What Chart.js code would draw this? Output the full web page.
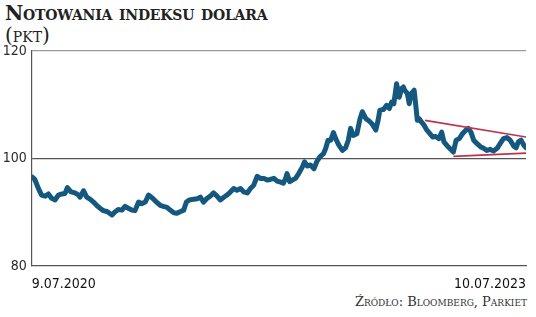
<!DOCTYPE html>
<html>
<head>
<meta charset="utf-8">
<script src="https://cdn.jsdelivr.net/npm/chart.js@4/dist/chart.umd.min.js"></script>
<style>
  html, body { margin: 0; padding: 0; background: #fff; }
  .wrap { position: relative; width: 536px; height: 317px; overflow: hidden; }
  .title { position: absolute; left: 5px; top: 1px; font: bold small-caps 20px "DejaVu Serif", serif; color: #222; white-space: nowrap; letter-spacing: -0.2px; }
  .unit { position: absolute; left: 5px; top: 23px; font: small-caps 20px "DejaVu Serif", serif; color: #222; }
  .source { position: absolute; right: 9px; top: 294px; font: small-caps 13px "DejaVu Serif", serif; color: #333; white-space: nowrap; }
  canvas { position: absolute; left: 0; top: 0; }
</style>
</head>
<body>
<div class="wrap">
  <div class="title">Notowania indeksu dolara</div>
  <div class="unit">(pkt)</div>
  <div class="source">Źródło: Bloomberg, Parkiet</div>
  <canvas id="dxyChart" width="536" height="317"></canvas>
</div>
<script>
// dni od 9.07.2020
const days = [0, 7, 15, 22, 30, 37, 44, 52, 59, 67, 74, 79, 87, 96, 104, 107, 115, 122, 130, 137,
  144, 152, 159, 168, 178, 185, 192, 200, 207, 215, 222, 229, 237, 244, 252, 259, 268, 278, 285, 292,
  300, 307, 315, 322, 329, 337, 343, 350, 359, 367, 374, 381, 389, 396, 403, 411, 418, 426, 433, 441,
  448, 455, 463, 470, 478, 485, 492, 500, 507, 515, 522, 529, 537, 544, 552, 558, 563, 566, 572, 578,
  585, 592, 600, 605, 611, 618, 626, 632, 639, 647, 652, 657, 663, 669, 674, 681, 689, 696, 702, 707,
  713, 721, 728, 733, 741, 748, 755, 763, 768, 772, 780, 787, 793, 798, 803, 809, 815, 820, 824, 827,
  833, 837, 842, 848, 852, 855, 859, 864, 870, 876, 881, 889, 896, 903, 909, 914, 922, 929, 935, 941,
  948, 955, 963, 968, 974, 980, 987, 995, 1002, 1009, 1017, 1024, 1032, 1039, 1046, 1054, 1061, 1069, 1074, 1079,
  1085, 1091, 1096];
const dxy = [96.6, 96.1, 94.4, 93.2, 93.0, 93.4, 92.6, 92.3, 93.2, 93.4, 93.5, 94.6, 93.8, 93.6, 93.2, 92.8, 94.0, 92.8, 92.4, 91.9,
  91.3, 90.7, 90.3, 90.1, 89.5, 90.1, 90.5, 90.4, 91.1, 90.7, 90.4, 90.3, 91.9, 91.6, 91.9, 93.2, 92.6, 91.8, 91.3, 91.1,
  90.9, 90.4, 89.9, 89.8, 90.1, 90.4, 91.9, 92.3, 92.4, 92.5, 92.8, 91.9, 92.6, 93.0, 93.6, 93.0, 92.3, 92.8, 93.2, 93.8,
  94.4, 94.1, 94.4, 93.8, 93.6, 94.4, 95.0, 96.7, 96.3, 96.3, 96.0, 96.1, 96.3, 95.8, 95.6, 95.4, 96.3, 97.2, 95.7, 96.0,
  96.3, 97.2, 98.4, 99.4, 98.6, 98.8, 98.1, 99.4, 100.3, 100.9, 101.9, 103.4, 103.4, 104.8, 103.7, 102.5, 101.5, 102.0, 103.4, 105.6,
  104.3, 104.6, 107.4, 108.7, 107.4, 107.0, 106.4, 105.3, 107.1, 109.0, 109.1, 109.9, 109.3, 110.5, 110.2, 113.9, 111.4, 113.0, 113.3, 112.7,
  112.1, 110.2, 112.1, 112.7, 109.6, 107.1, 107.4, 106.8, 106.2, 105.3, 104.8, 104.0, 104.1, 103.7, 104.9, 103.1, 102.3, 101.7, 101.2, 103.4,
  103.7, 104.6, 105.3, 105.6, 104.9, 103.4, 102.8, 102.2, 101.9, 101.5, 101.7, 101.4, 101.9, 102.8, 103.7, 103.9, 103.4, 102.3, 102.0, 103.1,
  103.4, 102.5, 102.0];

// linie trendu (trójkąt)
const upperDays = [872, 1096];
const upperVals = [107.1, 104.0];
const lowerDays = [935, 1096];
const lowerVals = [100.4, 101.0];

const yTicks = [80, 100, 120];
const xTickDays = [0, 1096];
const xTickLabels = ['9.07.2020', '10.07.2023'];

const toPoints = (xs, ys) => xs.map((x, i) => ({ x: x, y: ys[i] }));

new Chart(document.getElementById('dxyChart'), {
  type: 'line',
  data: {
    datasets: [
      {
        data: toPoints(days, dxy),
        borderColor: '#14587f',
        borderWidth: 5,
        borderCapStyle: 'round',
        borderJoinStyle: 'round',
        pointRadius: 0,
        tension: 0,
        order: 2,
      },
      {
        data: toPoints(upperDays, upperVals),
        borderColor: '#c2304c',
        borderWidth: 1.6,
        pointRadius: 0,
        order: 1,
      },
      {
        data: toPoints(lowerDays, lowerVals),
        borderColor: '#c2304c',
        borderWidth: 1.6,
        pointRadius: 0,
        order: 1,
      },
    ],
  },
  options: {
    responsive: false,
    animation: false,
    layout: { padding: { left: 0, top: 51, right: 10, bottom: 0 } },
    plugins: { legend: { display: false }, tooltip: { enabled: false } },
    scales: {
      x: {
        type: 'linear',
        min: 0,
        max: 1096,
        afterBuildTicks: (scale) => { scale.ticks = xTickDays.map((v) => ({ value: v })); },
        afterFit: (scale) => { scale.height = 51; },
        grid: { display: false },
        border: { display: true, color: '#555', width: 1.2 },
        ticks: {
          autoSkip: false,
          maxRotation: 0,
          align: 'inner',
          padding: 2,
          color: '#111',
          font: { family: '"DejaVu Sans Condensed", "DejaVu Sans"', size: 14 },
          callback: (v) => xTickLabels[xTickDays.indexOf(v)],
        },
      },
      y: {
        min: 80,
        max: 120,
        afterBuildTicks: (scale) => { scale.ticks = yTicks.map((v) => ({ value: v })); },
        afterFit: (scale) => { scale.width = 31.7; },
        grid: {
          drawTicks: false,
          lineWidth: 1.2,
          color: (ctx) => (ctx.tick && ctx.tick.value === 120 ? '#9a9a9a' : ctx.tick && ctx.tick.value === 100 ? '#555' : 'rgba(0,0,0,0)'),
        },
        border: { display: true, color: '#555', width: 1.2 },
        ticks: {
          padding: 5,
          color: '#2a2a2a',
          font: { family: '"DejaVu Sans Condensed", "DejaVu Sans"', size: 14 },
        },
      },
    },
  },
});
</script>
</body>
</html>
